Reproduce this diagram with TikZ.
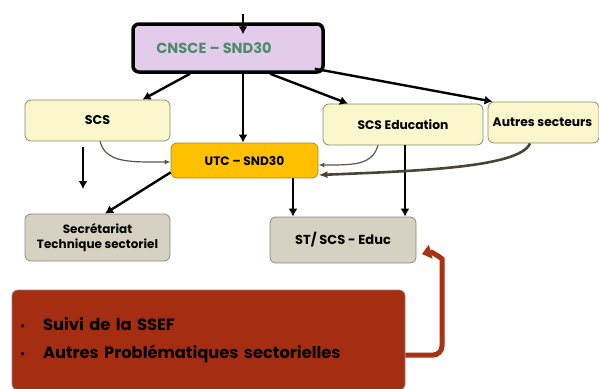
\documentclass[tikz,border=0pt]{standalone}
\usepackage{fontspec}
\setmainfont{Poppins}
\usetikzlibrary{arrows.meta,calc}
\definecolor{purpfill}{HTML}{E3CCEB}
\definecolor{greentxt}{HTML}{4F8A6E}
\definecolor{yelfill}{HTML}{FBF7CC}
\definecolor{yeldraw}{HTML}{8C8A6A}
\definecolor{utcfill}{HTML}{FFC000}
\definecolor{utcdraw}{HTML}{B08A20}
\definecolor{grayfill}{HTML}{D6D1C2}
\definecolor{graydraw}{HTML}{8E8A7A}
\definecolor{redfill}{HTML}{A52E12}
\definecolor{reddraw}{HTML}{8C8070}
\definecolor{redarr}{HTML}{A83214}
\definecolor{curvecol}{HTML}{5A5648}
\definecolor{curvedark}{HTML}{4A4438}
\tikzset{
  box/.style={rounded corners=6pt, inner sep=0pt, align=center, font=\bfseries},
  yelbox/.style={box, fill=yelfill, draw=yeldraw, line width=0.8pt, font=\bfseries\fontsize{12.3}{14}\selectfont},
  graybox/.style={box, fill=grayfill, draw=graydraw, line width=0.8pt},
  arr/.style={line width=2.4pt, -{Latex[length=8pt,width=9pt]}},
  thinarr/.style={draw=curvecol, line width=1.2pt, -{Latex[length=6pt,width=5pt]}},
  thickcurve/.style={draw=curvedark, line width=2.6pt, -{Latex[length=9pt,width=7pt]}},
  redarrow/.style={draw=redarr, line width=5pt, -{Triangle[length=9pt,width=14pt]}}
}
\begin{document}
\begin{tikzpicture}[x=1pt,y=-1pt]
\useasboundingbox (0,0) rectangle (599,388);
% nodes
\node[box, fill=purpfill, draw=black, line width=3.5pt, minimum width=190pt, minimum height=48pt] (cnsce) at (228,48) {};
\node[font=\bfseries\fontsize{14.6}{16}\selectfont, text=greentxt] (cnscet) at (214,48) {CNSCE – SND30};
\node[yelbox, minimum width=145pt, minimum height=41pt, font=\bfseries\fontsize{12.7}{14}\selectfont] (scs) at (97.5,120.5) {SCS};
\node[box, fill=utcfill, draw=utcdraw, line width=0.8pt, minimum width=147pt, minimum height=35pt, font=\bfseries\fontsize{12.2}{14}\selectfont] (utc) at (244.5,160.5) {UTC – SND30};
\node[yelbox, minimum width=160pt, minimum height=41pt] (scsedu) at (403,124.5) {SCS Education};
\node[yelbox, minimum width=111pt, minimum height=41pt] (autres) at (543.5,122.5) {\hspace*{-2pt}Autres secteurs};
\node[graybox, minimum width=145pt, minimum height=47pt, font=\bfseries\fontsize{12}{14.5}\selectfont] (secr) at (97.5,237.5) {Secrétariat\\Technique sectoriel};
\node[graybox, minimum width=146pt, minimum height=46pt, font=\bfseries\fontsize{13}{15}\selectfont] (st) at (343,240) {ST/ SCS - Educ};
\node[box, fill=redfill, draw=reddraw, line width=0.8pt, minimum width=393pt, minimum height=100pt, text width=377pt, align=left, font=\bfseries\fontsize{16.3}{28}\selectfont] (red) at (208.5,340) {\makebox[23pt][l]{\mdseries\fontsize{13}{28}\selectfont\textbullet}Suivi de la SSEF\\\makebox[23pt][l]{\mdseries\fontsize{13}{28}\selectfont\textbullet}Autres Problématiques sectorielles};
% free coordinates
\coordinate (top) at (243,14);
\coordinate (f1) at (83,147);
\coordinate (f2) at (83,189);
\coordinate (rtip) at (422,254);
% arrows
\draw[arr] (top) -- ($(cnsce.north)+(15,12)$);
\draw[arr] ($(cnsce.south)+(-38,0)$) -- ($(scs.north)+(45,0)$);
\draw[arr] ($(cnsce.south)+(15,0)$) -- ($(utc.north)+(-1.5,0)$);
\draw[arr] ($(cnsce.south)+(42,0)$) -- ($(scsedu.north)+(-55,0)$);
\draw[arr] ($(cnsce.south east)+(-10,-5)$) -- ($(autres.north west)+(5,0)$);
\draw[arr] (f1) -- (f2);
\draw[arr] ($(utc.south west)+(0,-6)$) -- ($(secr.north)+(7.5,0)$);
\draw[arr] ($(utc.south)+(48.5,0)$) -- ($(st.north)+(-50,0)$);
\draw[arr] ($(scsedu.south)+(2,0)$) -- ($(st.north)+(62,0)$);
% curved connectors
\draw[thinarr] ($(scs.south)+(2.5,0)$) .. controls +(6,22) and +(-40,0) .. ($(utc.west)+(0,1.5)$);
\draw[thinarr] ($(scsedu.south)+(-25,0)$) .. controls +(-6,20) and +(35,0) .. ($(utc.east)+(0,4.5)$);
\draw[thickcurve] ($(autres.south)+(-13.5,0)$) .. controls +(-10,24) and +(100,-4) .. ($(utc.east)+(0,14.5)$);
% red return arrow
\draw[redarrow, rounded corners=9pt] ($(red.east)+(0,15)$) -- (442,355) -- (442,268) to[out=90,in=15] (rtip);
\end{tikzpicture}
\end{document}
